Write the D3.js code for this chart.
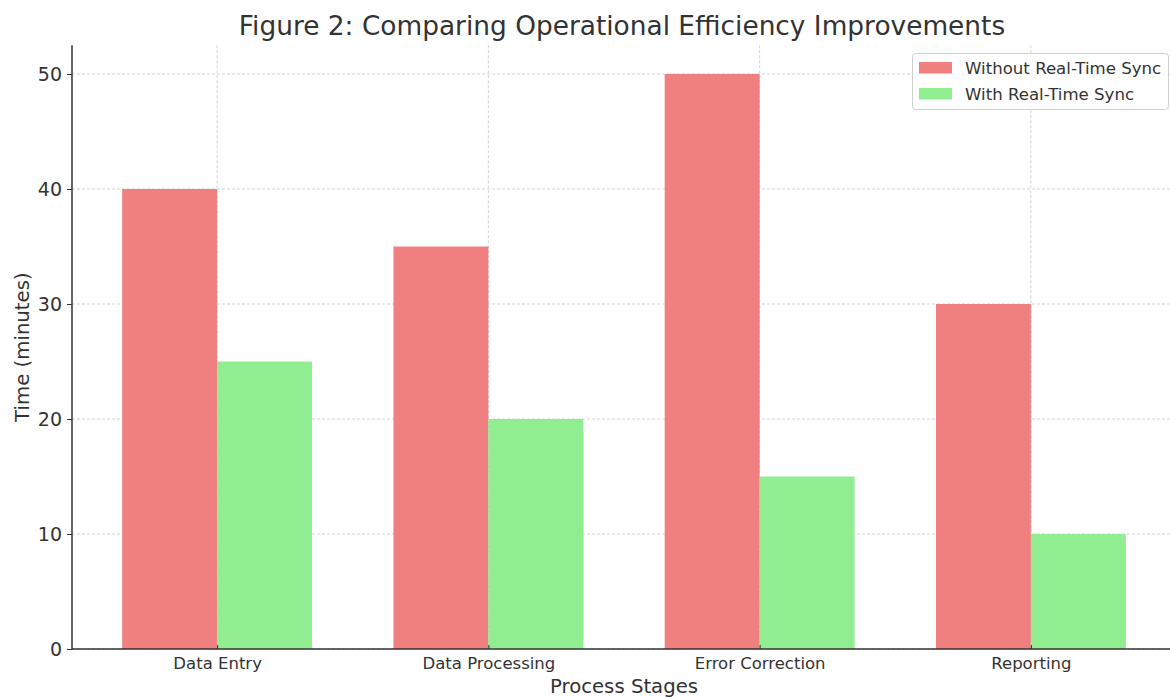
<!DOCTYPE html>
<html>
<head>
<meta charset="utf-8">
<script src="https://cdn.jsdelivr.net/npm/d3@7"></script>
<style>
  html, body { margin: 0; padding: 0; background: #fff; }
  svg { display: block; font-family: "DejaVu Sans", sans-serif; }
</style>
</head>
<body>
<svg id="chart" width="1170" height="697"></svg>
<script>
const categories = ["Data Entry", "Data Processing", "Error Correction", "Reporting"];
const seriesNames = ["Without Real-Time Sync", "With Real-Time Sync"];
const withoutSync = [40, 35, 50, 30];
const withSync = [25, 20, 15, 10];
const yTicks = [0, 10, 20, 30, 40, 50];
const colors = ["#F08080", "#90EE90"];
const title = "Figure 2: Comparing Operational Efficiency Improvements";
const xLabel = "Process Stages";
const yLabel = "Time (minutes)";

const svg = d3.select("#chart");
const m = { left: 72, right: 1176, top: 45.25, bottom: 649 };
const barW = 0.35;

const x = d3.scaleLinear().domain([-0.535, categories.length - 1 + 0.535]).range([m.left, m.right]);
const y = d3.scaleLinear().domain([0, 52.5]).range([m.bottom, m.top]);

const textColor = "#333";

// grid
const grid = svg.append("g");
grid.selectAll("line.h").data(yTicks).enter().append("line")
  .attr("x1", m.left).attr("x2", m.right)
  .attr("y1", d => y(d)).attr("y2", d => y(d))
  .attr("stroke", "#c8c8c8").attr("stroke-width", 0.8).attr("stroke-dasharray", "3,2");
grid.selectAll("line.v").data(categories).enter().append("line")
  .attr("x1", (d, i) => x(i)).attr("x2", (d, i) => x(i))
  .attr("y1", m.top).attr("y2", m.bottom)
  .attr("stroke", "#c8c8c8").attr("stroke-width", 0.8).attr("stroke-dasharray", "3,2");

// bars
const series = [withoutSync, withSync];
series.forEach((vals, s) => {
  svg.append("g").selectAll("rect").data(vals).enter().append("rect")
    .attr("x", (d, i) => s === 0 ? x(i - barW) : x(i))
    .attr("width", x(barW) - x(0))
    .attr("y", d => y(d))
    .attr("height", d => y(0) - y(d))
    .attr("fill", colors[s]);
});

// y axis
const yAxis = svg.append("g").attr("transform", `translate(${m.left},0)`)
  .call(d3.axisLeft(y).tickValues(yTicks).tickSize(5).tickPadding(5).tickFormat(d3.format("d")));
yAxis.select(".domain").remove();
yAxis.selectAll(".tick line").attr("stroke", textColor).attr("stroke-width", 1);
yAxis.selectAll(".tick text").attr("font-size", 19).attr("fill", textColor).attr("font-family", "DejaVu Sans");

// x axis
const xAxis = svg.append("g").attr("transform", `translate(0,${m.bottom})`)
  .call(d3.axisBottom(x).tickValues(d3.range(categories.length)).tickSize(0).tickPadding(8).tickFormat(i => categories[i]));
xAxis.select(".domain").remove();
xAxis.selectAll(".tick text").attr("font-size", 16.5).attr("fill", textColor).attr("font-family", "DejaVu Sans");
xAxis.selectAll(".tick").append("line").attr("y1", 0).attr("y2", -4).attr("stroke", textColor).attr("stroke-width", 1);

// spines
svg.append("line").attr("x1", m.left).attr("x2", m.left).attr("y1", m.top).attr("y2", m.bottom + 0.5)
  .attr("stroke", textColor).attr("stroke-width", 1.5);
svg.append("line").attr("x1", m.left).attr("x2", m.right).attr("y1", m.bottom).attr("y2", m.bottom)
  .attr("stroke", textColor).attr("stroke-width", 1.5);

// title
svg.append("text").attr("x", (m.left + m.right) / 2 - 2).attr("y", 35)
  .attr("text-anchor", "middle").attr("font-size", 26.4).attr("fill", textColor).text(title);

// axis labels
svg.append("text").attr("x", (m.left + m.right) / 2).attr("y", 693)
  .attr("text-anchor", "middle").attr("font-size", 19.7).attr("fill", textColor).text(xLabel);
svg.append("text").attr("transform", `translate(29,${(m.top + m.bottom) / 2}) rotate(-90)`)
  .attr("text-anchor", "middle").attr("font-size", 19.7).attr("fill", textColor).text(yLabel);

// legend
const lg = svg.append("g").attr("transform", "translate(912,53)");
lg.append("rect").attr("x", 0.5).attr("y", 0.5).attr("width", 256).attr("height", 56).attr("rx", 3)
  .attr("fill", "#fff").attr("fill-opacity", 0.8).attr("stroke", "#d0d0d0").attr("stroke-width", 1);
seriesNames.forEach((name, i) => {
  lg.append("rect").attr("x", 7).attr("y", 9 + i * 26).attr("width", 33).attr("height", 11.5).attr("fill", colors[i]);
  lg.append("text").attr("x", 53).attr("y", 20.5 + i * 26).attr("font-size", 16.6).attr("fill", textColor).text(name);
});
</script>
</body>
</html>
